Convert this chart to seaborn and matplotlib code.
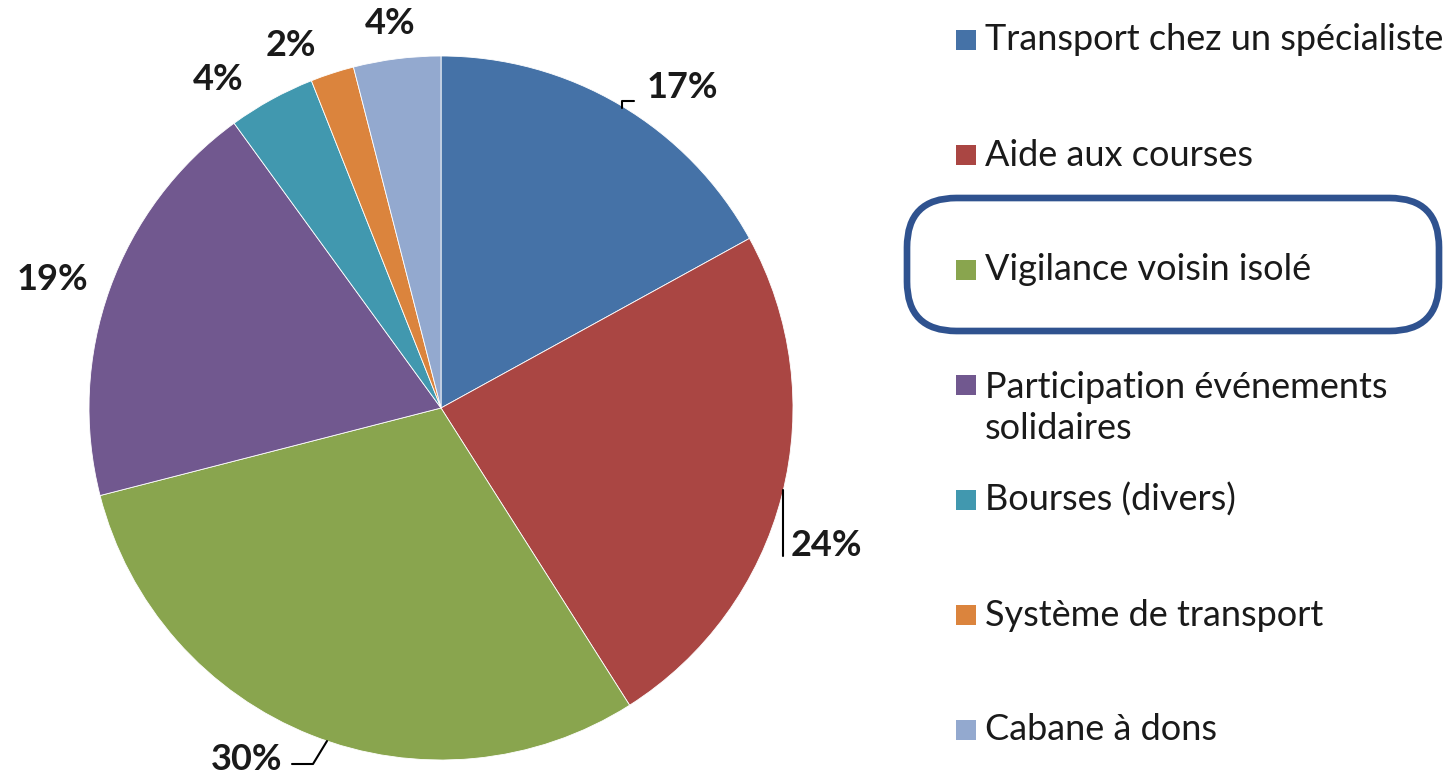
import matplotlib
matplotlib.use("Agg")
import matplotlib.pyplot as plt
import seaborn as sns
from matplotlib.patches import Rectangle, FancyBboxPatch
from matplotlib.lines import Line2D

categories = ["Transport chez un spécialiste", "Aide aux courses", "Vigilance voisin isolé",
              "Participation événements\nsolidaires", "Bourses (divers)", "Système de transport",
              "Cabane à dons"]
values = [17, 24, 30, 19, 4, 2, 4]
pct_labels = ["17%", "24%", "30%", "19%", "4%", "2%", "4%"]
colors = ["#4572A7", "#AA4643", "#89A54E", "#71588F", "#4198AF", "#DB843D", "#93A9CF"]

sns.set_theme(style="white")
plt.rcParams['font.family'] = ['Lato', 'DejaVu Sans']
palette = sns.color_palette(colors)

W, H = 1452, 778
fig = plt.figure(figsize=(W / 100, H / 100), dpi=100)
fig.patch.set_facecolor("white")

def fx(x):
    return x / W

def fy(y):
    return 1 - y / H

cx, cy, r = 441, 408, 352
ax = fig.add_axes([fx(cx - r), fy(cy + r), 2 * r / W, 2 * r / H])
ax.pie(values, colors=palette, startangle=90, counterclock=False,
       wedgeprops=dict(edgecolor="white", linewidth=0.6), radius=1)
ax.set_xlim(-1, 1)
ax.set_ylim(-1, 1)
ax.set_aspect("equal")
ax.axis("off")

# percentage labels (pixel positions)
label_pos = [(682, 88), (826, 545), (247, 760), (52, 280), (218, 80), (291, 45), (390, 24)]
for (x, y), t in zip(label_pos, pct_labels):
    fig.text(fx(x), fy(y), t, ha="center", va="center", fontsize=26, fontweight="bold",
             color="#1a1a1a")

# leader lines
leaders = [
    [(622, 108), (622, 101), (634, 101)],
    [(783, 490), (783, 556)],
    [(327, 741), (313, 764), (292, 764)],
]
for pts in leaders:
    xs = [fx(p[0]) for p in pts]
    ys = [fy(p[1]) for p in pts]
    fig.add_artist(Line2D(xs, ys, color="black", linewidth=1.5))

# legend
legend_y = [40, 155, 270, 385, 500, 615, 730]
sq = 20
for yv, lab, c in zip(legend_y, categories, palette):
    fig.add_artist(Rectangle((fx(956), fy(yv + sq / 2)), sq / W, sq / H,
                             facecolor=c, edgecolor="none"))
    ty = yv + 23 if "\n" in lab else yv
    fig.text(fx(985), fy(ty), lab, ha="left", va="center",
             fontsize=26, color="#1a1a1a", linespacing=1.3)

# highlight box
fig.add_artist(FancyBboxPatch((fx(907), fy(331)), (1439 - 907) / W, (331 - 198) / H,
                              boxstyle="round,pad=0,rounding_size=0.034",
                              transform=fig.transFigure, facecolor="none",
                              edgecolor="#2F528F", linewidth=4.8,
                              mutation_aspect=W / H))

fig.savefig("out.png", dpi=100, facecolor="white")
